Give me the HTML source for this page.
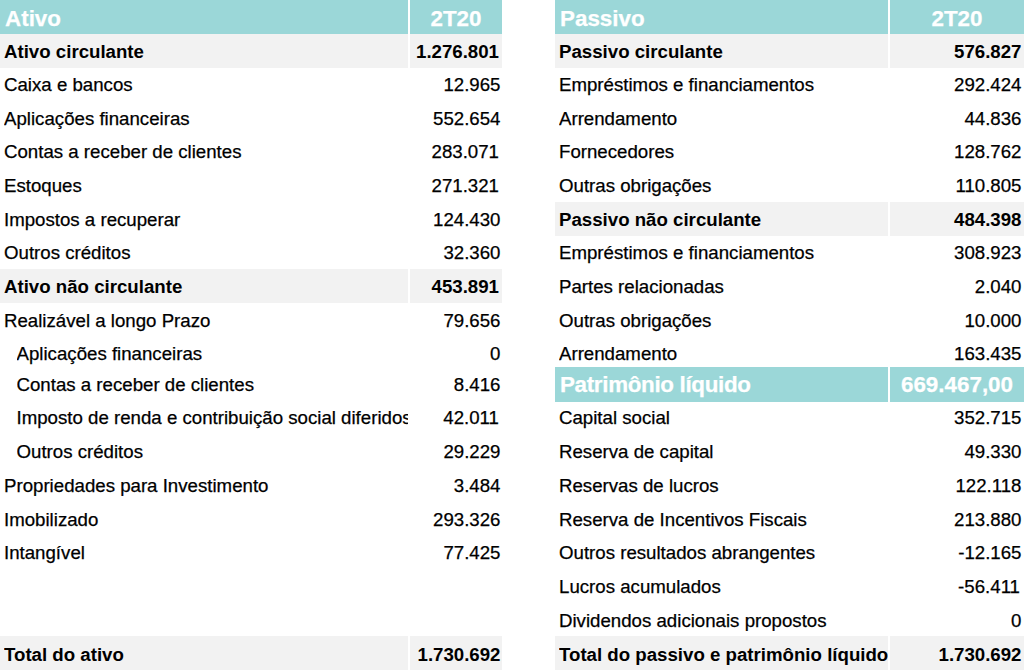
<!DOCTYPE html>
<html><head><meta charset="utf-8">
<style>
html,body{margin:0;padding:0;background:#fff;}
body{width:1024px;height:670px;position:relative;overflow:hidden;font-family:"Liberation Sans",sans-serif;color:#000;}
.bg{position:absolute;}
.t{position:absolute;white-space:nowrap;overflow:hidden;font-size:18.67px;-webkit-text-stroke:0.25px currentColor;}
.b{font-weight:bold;-webkit-text-stroke:0;}
.h{font-weight:bold;font-size:22.4px;color:#fff;}
.r{text-align:right;}
.c{text-align:center;}
</style></head><body>
<div class="bg" style="left:0px;top:0px;width:408px;height:34px;background:#9bd7d8"></div>
<div class="bg" style="left:410px;top:0px;width:92px;height:34px;background:#9bd7d8"></div>
<div class="t h" style="left:5px;top:5.86px;width:403px;line-height:25.76px;">Ativo</div>
<div class="t h c" style="left:410px;top:5.86px;width:92px;line-height:25.76px">2T20</div>
<div class="bg" style="left:0px;top:34px;width:408px;height:34px;background:#f2f2f2"></div>
<div class="bg" style="left:410px;top:34px;width:92px;height:34px;background:#f2f2f2"></div>
<div class="t b" style="left:4px;top:40.70px;width:404px;line-height:21.47px;">Ativo circulante</div>
<div class="t b r" style="left:410px;top:40.70px;width:89.0px;line-height:21.47px">1.276.801</div>
<div class="t n" style="left:4px;top:74.20px;width:404px;line-height:21.47px;">Caixa e bancos</div>
<div class="t n r" style="left:410px;top:74.20px;width:90.5px;line-height:21.47px">12.965</div>
<div class="t n" style="left:4px;top:107.80px;width:404px;line-height:21.47px;">Aplicações financeiras</div>
<div class="t n r" style="left:410px;top:107.80px;width:90.5px;line-height:21.47px">552.654</div>
<div class="t n" style="left:4px;top:141.40px;width:404px;line-height:21.47px;">Contas a receber de clientes</div>
<div class="t n r" style="left:410px;top:141.40px;width:89.0px;line-height:21.47px">283.071</div>
<div class="t n" style="left:4px;top:175.20px;width:404px;line-height:21.47px;">Estoques</div>
<div class="t n r" style="left:410px;top:175.20px;width:89.0px;line-height:21.47px">271.321</div>
<div class="t n" style="left:4px;top:209.10px;width:404px;line-height:21.47px;">Impostos a recuperar</div>
<div class="t n r" style="left:410px;top:209.10px;width:90.5px;line-height:21.47px">124.430</div>
<div class="t n" style="left:4px;top:242.10px;width:404px;line-height:21.47px;">Outros créditos</div>
<div class="t n r" style="left:410px;top:242.10px;width:90.5px;line-height:21.47px">32.360</div>
<div class="bg" style="left:0px;top:268.5px;width:408px;height:34.80000000000001px;background:#f2f2f2"></div>
<div class="bg" style="left:410px;top:268.5px;width:92px;height:34.80000000000001px;background:#f2f2f2"></div>
<div class="t b" style="left:4px;top:276.20px;width:404px;line-height:21.47px;">Ativo não circulante</div>
<div class="t b r" style="left:410px;top:276.20px;width:89.0px;line-height:21.47px">453.891</div>
<div class="t n" style="left:4px;top:310.20px;width:404px;line-height:21.47px;">Realizável a longo Prazo</div>
<div class="t n r" style="left:410px;top:310.20px;width:90.5px;line-height:21.47px">79.656</div>
<div class="t n" style="left:16.5px;top:343.40px;width:391.5px;line-height:21.47px;">Aplicações financeiras</div>
<div class="t n r" style="left:410px;top:343.40px;width:90.5px;line-height:21.47px">0</div>
<div class="t n" style="left:16.5px;top:373.80px;width:391.5px;line-height:21.47px;">Contas a receber de clientes</div>
<div class="t n r" style="left:410px;top:373.80px;width:90.5px;line-height:21.47px">8.416</div>
<div class="t n" style="left:16.5px;top:407.40px;width:391.5px;line-height:21.47px;">Imposto de renda e contribuição social diferidos</div>
<div class="t n r" style="left:410px;top:407.40px;width:89.0px;line-height:21.47px">42.011</div>
<div class="t n" style="left:16.5px;top:440.90px;width:391.5px;line-height:21.47px;">Outros créditos</div>
<div class="t n r" style="left:410px;top:440.90px;width:90.5px;line-height:21.47px">29.229</div>
<div class="t n" style="left:4px;top:474.90px;width:404px;line-height:21.47px;">Propriedades para Investimento</div>
<div class="t n r" style="left:410px;top:474.90px;width:90.5px;line-height:21.47px">3.484</div>
<div class="t n" style="left:4px;top:508.80px;width:404px;line-height:21.47px;">Imobilizado</div>
<div class="t n r" style="left:410px;top:508.80px;width:90.5px;line-height:21.47px">293.326</div>
<div class="t n" style="left:4px;top:542.20px;width:404px;line-height:21.47px;">Intangível</div>
<div class="t n r" style="left:410px;top:542.20px;width:90.5px;line-height:21.47px">77.425</div>
<div class="bg" style="left:0px;top:636px;width:408px;height:34px;background:#f2f2f2"></div>
<div class="bg" style="left:410px;top:636px;width:92px;height:34px;background:#f2f2f2"></div>
<div class="t b" style="left:4px;top:643.50px;width:404px;line-height:21.47px;">Total do ativo</div>
<div class="t b r" style="left:410px;top:643.50px;width:90.5px;line-height:21.47px">1.730.692</div>
<div class="bg" style="left:555px;top:0px;width:333px;height:34px;background:#9bd7d8"></div>
<div class="bg" style="left:890px;top:0px;width:134px;height:34px;background:#9bd7d8"></div>
<div class="t h" style="left:560px;top:5.86px;width:328px;line-height:25.76px;">Passivo</div>
<div class="t h c" style="left:890px;top:5.86px;width:134px;line-height:25.76px">2T20</div>
<div class="bg" style="left:555px;top:34px;width:333px;height:34px;background:#f2f2f2"></div>
<div class="bg" style="left:890px;top:34px;width:134px;height:34px;background:#f2f2f2"></div>
<div class="t b" style="left:559px;top:40.70px;width:329px;line-height:21.47px;">Passivo circulante</div>
<div class="t b r" style="left:890px;top:40.70px;width:131.5px;line-height:21.47px">576.827</div>
<div class="t n" style="left:559px;top:74.20px;width:329px;line-height:21.47px;">Empréstimos e financiamentos</div>
<div class="t n r" style="left:890px;top:74.20px;width:131.5px;line-height:21.47px">292.424</div>
<div class="t n" style="left:559px;top:107.80px;width:329px;line-height:21.47px;">Arrendamento</div>
<div class="t n r" style="left:890px;top:107.80px;width:131.5px;line-height:21.47px">44.836</div>
<div class="t n" style="left:559px;top:141.40px;width:329px;line-height:21.47px;">Fornecedores</div>
<div class="t n r" style="left:890px;top:141.40px;width:131.5px;line-height:21.47px">128.762</div>
<div class="t n" style="left:559px;top:175.20px;width:329px;line-height:21.47px;">Outras obrigações</div>
<div class="t n r" style="left:890px;top:175.20px;width:131.5px;line-height:21.47px">110.805</div>
<div class="bg" style="left:555px;top:202px;width:333px;height:34px;background:#f2f2f2"></div>
<div class="bg" style="left:890px;top:202px;width:134px;height:34px;background:#f2f2f2"></div>
<div class="t b" style="left:559px;top:209.10px;width:329px;line-height:21.47px;">Passivo não circulante</div>
<div class="t b r" style="left:890px;top:209.10px;width:131.5px;line-height:21.47px">484.398</div>
<div class="t n" style="left:559px;top:242.10px;width:329px;line-height:21.47px;">Empréstimos e financiamentos</div>
<div class="t n r" style="left:890px;top:242.10px;width:131.5px;line-height:21.47px">308.923</div>
<div class="t n" style="left:559px;top:276.20px;width:329px;line-height:21.47px;">Partes relacionadas</div>
<div class="t n r" style="left:890px;top:276.20px;width:131.5px;line-height:21.47px">2.040</div>
<div class="t n" style="left:559px;top:310.20px;width:329px;line-height:21.47px;">Outras obrigações</div>
<div class="t n r" style="left:890px;top:310.20px;width:131.5px;line-height:21.47px">10.000</div>
<div class="t n" style="left:559px;top:343.40px;width:329px;line-height:21.47px;">Arrendamento</div>
<div class="t n r" style="left:890px;top:343.40px;width:131.5px;line-height:21.47px">163.435</div>
<div class="bg" style="left:555px;top:367px;width:333px;height:35px;background:#9bd7d8"></div>
<div class="bg" style="left:890px;top:367px;width:134px;height:35px;background:#9bd7d8"></div>
<div class="t h" style="left:560px;top:372.16px;width:328px;line-height:25.76px; letter-spacing:-0.33px;">Patrimônio líquido</div>
<div class="t h c" style="left:890px;top:372.16px;width:134px;line-height:25.76px">669.467,00</div>
<div class="t n" style="left:559px;top:407.40px;width:329px;line-height:21.47px;">Capital social</div>
<div class="t n r" style="left:890px;top:407.40px;width:131.5px;line-height:21.47px">352.715</div>
<div class="t n" style="left:559px;top:440.90px;width:329px;line-height:21.47px;">Reserva de capital</div>
<div class="t n r" style="left:890px;top:440.90px;width:131.5px;line-height:21.47px">49.330</div>
<div class="t n" style="left:559px;top:474.90px;width:329px;line-height:21.47px;">Reservas de lucros</div>
<div class="t n r" style="left:890px;top:474.90px;width:131.5px;line-height:21.47px">122.118</div>
<div class="t n" style="left:559px;top:508.80px;width:329px;line-height:21.47px;">Reserva de Incentivos Fiscais</div>
<div class="t n r" style="left:890px;top:508.80px;width:131.5px;line-height:21.47px">213.880</div>
<div class="t n" style="left:559px;top:542.20px;width:329px;line-height:21.47px;">Outros resultados abrangentes</div>
<div class="t n r" style="left:890px;top:542.20px;width:131.5px;line-height:21.47px">-12.165</div>
<div class="t n" style="left:559px;top:576.10px;width:329px;line-height:21.47px;">Lucros acumulados</div>
<div class="t n r" style="left:890px;top:576.10px;width:130.0px;line-height:21.47px">-56.411</div>
<div class="t n" style="left:559px;top:609.90px;width:329px;line-height:21.47px;">Dividendos adicionais propostos</div>
<div class="t n r" style="left:890px;top:609.90px;width:131.5px;line-height:21.47px">0</div>
<div class="bg" style="left:555px;top:636px;width:333px;height:34px;background:#f2f2f2"></div>
<div class="bg" style="left:890px;top:636px;width:134px;height:34px;background:#f2f2f2"></div>
<div class="t b" style="left:559px;top:643.50px;width:329px;line-height:21.47px;">Total do passivo e patrimônio líquido</div>
<div class="t b r" style="left:890px;top:643.50px;width:131.5px;line-height:21.47px">1.730.692</div>
</body></html>
